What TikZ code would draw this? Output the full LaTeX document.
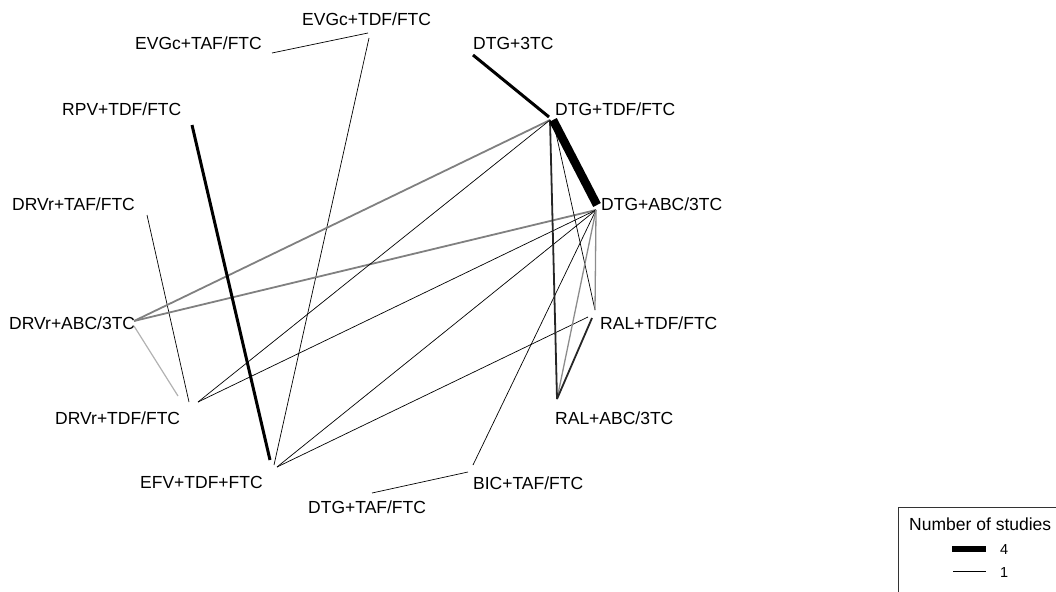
\documentclass[tikz,border=0pt]{standalone}
\usepackage{fontspec}
\setmainfont{Liberation Sans}
\begin{document}
\begin{tikzpicture}[x=1pt,y=-1pt,
  lab/.style={anchor=base west,inner sep=0pt,font=\fontsize{17.5}{20}\selectfont},
  leglab/.style={anchor=base west,inner sep=0pt,font=\fontsize{14.5}{16}\selectfont},
  one/.style={draw=black,line width=0.7pt},
  onegray/.style={draw=black!30,line width=1.2pt},
  twogray/.style={draw=black!50,line width=1.8pt},
  midgray/.style={draw=black!45,line width=1.3pt},
  two/.style={draw=black!85,line width=1.8pt},
  three/.style={draw=black,line width=3pt},
  four/.style={draw=black,line width=8.5pt}]
\useasboundingbox (0,0) rectangle (1056,591);
% labels
\node[lab] (Levgctdf) at (302,26) {EVGc+TDF/FTC};
\node[lab] (Levgctaf) at (135,50) {EVGc+TAF/FTC};
\node[lab] (Lrpv) at (62,115) {RPV+TDF/FTC};
\node[lab] (Ldrvrtaf) at (12,210) {DRVr+TAF/FTC};
\node[lab] (Ldrvrabc) at (9,329) {DRVr+ABC/3TC};
\node[lab] (Ldrvrtdf) at (55,424) {DRVr+TDF/FTC};
\node[lab] (Lefv) at (140,488) {EFV+TDF+FTC};
\node[lab] (Ldtgtaf) at (308,513) {DTG+TAF/FTC};
\node[lab] (Lbic) at (473,489) {BIC+TAF/FTC};
\node[lab] (Lralabc) at (555,424) {RAL+ABC/3TC};
\node[lab] (Lraltdf) at (600,329) {RAL+TDF/FTC};
\node[lab] (Ldtgabc) at (601,210) {DTG+ABC/3TC};
\node[lab] (Ldtgtdf) at (555,115) {DTG+TDF/FTC};
\node[lab] (Ldtg3tc) at (473,50) {DTG+3TC};
% edge end points
\coordinate (evgctdf) at (368,33);
\coordinate (evgctdfb) at (369,38);
\coordinate (evgctaf) at (272,53);
\coordinate (rpv) at (192,125);
\coordinate (drvrtaf) at (147,215);
\coordinate (drvrabc) at (134,321);
\coordinate (drvrabcb) at (134,326);
\coordinate (drvrtdf) at (198,402);
\coordinate (drvrtdfb) at (189,402);
\coordinate (drvrtdfc) at (178,396);
\coordinate (efv) at (277,467);
\coordinate (efvb) at (270,460);
\coordinate (efvc) at (274,465);
\coordinate (dtgtaf) at (372,493);
\coordinate (bic) at (473,465);
\coordinate (bicb) at (468,472);
\coordinate (ralabc) at (557,399);
\coordinate (raltdf) at (595,310);
\coordinate (raltdfb) at (592,318);
\coordinate (raltdfc) at (588,317);
\coordinate (dtgabc) at (596,210);
\coordinate (dtgabcb) at (597,205);
\coordinate (dtgtdf) at (550,120);
\coordinate (dtgtdfb) at (553,120);
\coordinate (dtgtdfc) at (549,117);
\coordinate (dtg3tc) at (473,55);
% edges
\draw[one] (evgctaf) -- (evgctdf);
\draw[one] (evgctdfb) -- (efvc);
\draw[one] (drvrtaf) -- (drvrtdfb);
\draw[onegray] (drvrabcb) -- (drvrtdfc);
\draw[twogray] (drvrabc) -- (dtgtdf);
\draw[twogray] (drvrabc) -- (dtgabc);
\draw[one] (drvrtdf) -- (dtgtdf);
\draw[one] (drvrtdf) -- (dtgabc);
\draw[one] (efv) -- (dtgabc);
\draw[one] (efv) -- (raltdfc);
\draw[one] (dtgtaf) -- (bicb);
\draw[one] (bic) -- (dtgabc);
\draw[one] (dtgtdfb) -- (raltdf);
\draw[midgray] (dtgabc) -- (raltdf);
\draw[midgray] (dtgabc) -- (ralabc);
\draw[two] (raltdfb) -- (ralabc);
\draw[two] (dtgtdf) -- (ralabc);
\draw[three] (rpv) -- (efvb);
\draw[three] (dtg3tc) -- (dtgtdfc);
\draw[four] (dtgtdfb) -- (dtgabcb);
% legend
\draw[black!80,line width=0.8pt] (898,600) |- (1070,507);
\node[lab] (legtitle) at (909,530) {Number of studies};
\coordinate (l4a) at (952,549);
\coordinate (l4b) at (986,549);
\coordinate (l1a) at (953,571);
\coordinate (l1b) at (986,571);
\draw[draw=black,line width=6pt] (l4a) -- (l4b);
\draw[one] (l1a) -- (l1b);
\node[leglab] (n4) at (1000,554) {4};
\node[leglab] (n1) at (1000,577) {1};
\end{tikzpicture}
\end{document}
